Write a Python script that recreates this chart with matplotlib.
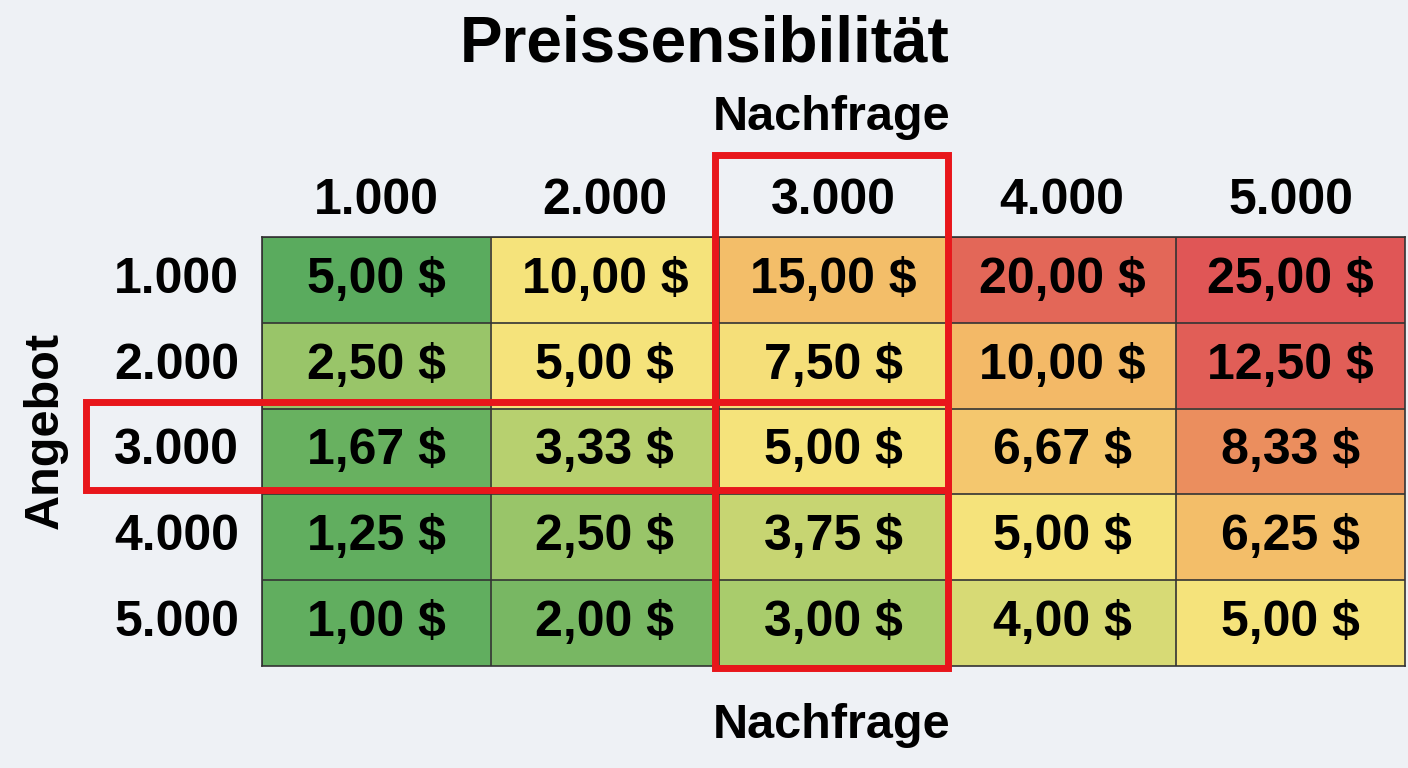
import numpy as np
import matplotlib
matplotlib.use("Agg")
import matplotlib.pyplot as plt
from matplotlib.colors import LinearSegmentedColormap
from matplotlib.patches import Rectangle

# Daten
spalten_labels = ["1.000", "2.000", "3.000", "4.000", "5.000"]
zeilen_labels = ["1.000", "2.000", "3.000", "4.000", "5.000"]
preise = np.array([
    [5.00, 10.00, 15.00, 20.00, 25.00],
    [2.50, 5.00, 7.50, 10.00, 12.50],
    [1.67, 3.33, 5.00, 6.67, 8.33],
    [1.25, 2.50, 3.75, 5.00, 6.25],
    [1.00, 2.00, 3.00, 4.00, 5.00],
])
# Farbstufe je Zelle (0 = grün, 2 = gelb, 4 = rot)
stufe = np.array([
    [0.0, 2.0, 2.8, 3.8, 4.0],
    [0.8, 2.0, 2.1, 2.9, 3.9],
    [0.2, 1.2, 2.0, 2.6, 3.4],
    [0.1, 0.8, 1.4, 2.0, 2.8],
    [0.1, 0.4, 1.0, 1.6, 2.0],
])
markierte_spalte = 2
markierte_zeile = 2

bg = "#eef1f5"
cmap = LinearSegmentedColormap.from_list(
    "preis", ["#5aab5e", "#a9cc6c", "#f6e47c", "#f3b565", "#e05656"])

fig = plt.figure(figsize=(14.08, 7.68), dpi=100, facecolor=bg)
W, H = 1408, 768
ax = fig.add_axes([262 / W, 102 / H, 1143 / W, 429 / H])
ax.imshow(stufe, cmap=cmap, vmin=0, vmax=4, extent=(0, 5, 5, 0), aspect="auto")

FAM = "Liberation Sans"
for i in range(5):
    for j in range(5):
        txt = f"{preise[i, j]:.2f}".replace(".", ",") + " $"
        ax.text(j + 0.5, i + 0.5, txt, ha="center", va="center",
                fontsize=36, fontweight="bold", family=FAM)
    ax.axhline(i, color="#333", lw=1.2)
    ax.axvline(i, color="#333", lw=1.2)
for s in ax.spines.values():
    s.set_color("#333")
    s.set_linewidth(1.2)
ax.set_xticks([])
ax.set_yticks([])
ax.set_xlim(0, 5)
ax.set_ylim(5, 0)

font = dict(fontweight="bold", family=FAM, clip_on=False)
for j, lab in enumerate(spalten_labels):
    ax.text(j + 0.5, -0.42, lab, ha="center", va="center", fontsize=36, **font)
for i, lab in enumerate(zeilen_labels):
    ax.text(-0.1, i + 0.5, lab, ha="right", va="center", fontsize=36, **font)

fig.text(705 / W, 1 - 45 / H, "Preissensibilität", ha="center", va="center", fontsize=46, fontweight="bold", family=FAM)
fig.text(832 / W, 1 - 118 / H, "Nachfrage", ha="center", va="center", fontsize=35, fontweight="bold", family=FAM)
fig.text(832 / W, 1 - 726 / H, "Nachfrage", ha="center", va="center", fontsize=35, fontweight="bold", family=FAM)
fig.text(45 / W, 1 - 430 / H, "Angebot", ha="center", va="center", rotation=90, fontsize=35, fontweight="bold", family=FAM)

# Markierungen
c = markierte_spalte
ax.add_patch(Rectangle((c - 0.02, -0.95), 1.02, 5.97, fill=False, ec="#e8161b", lw=5, clip_on=False, zorder=5))
r = markierte_zeile
ax.add_patch(Rectangle((-0.77, r - 0.08), c + 1 + 0.77, 1.03, fill=False, ec="#e8161b", lw=5, clip_on=False, zorder=5))

fig.savefig("out.png", dpi=100, facecolor=bg)
